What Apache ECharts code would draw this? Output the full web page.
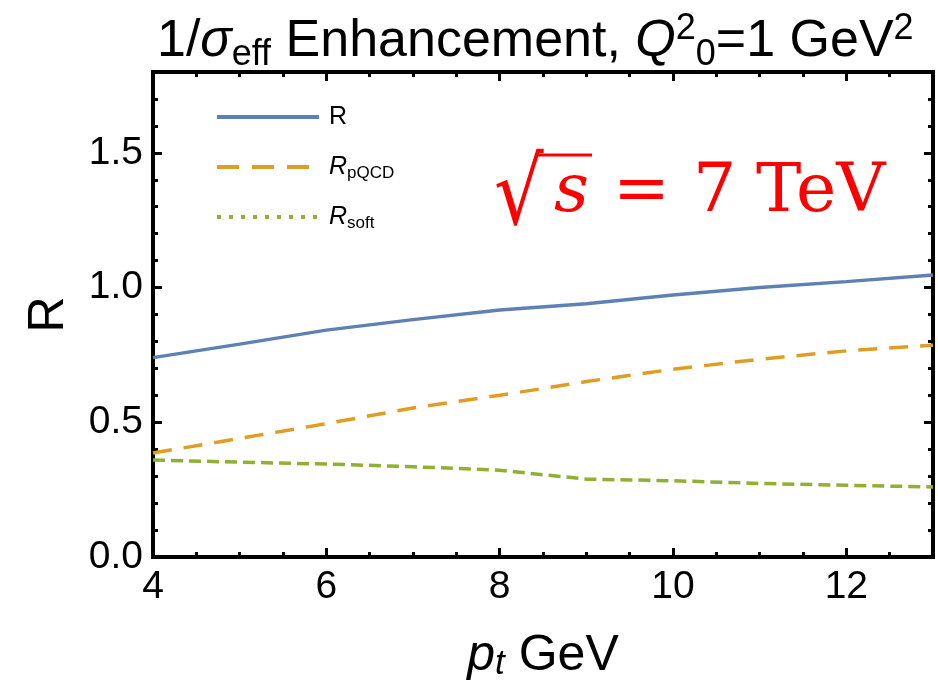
<!DOCTYPE html>
<html><head><meta charset="utf-8">
<script src="https://cdn.jsdelivr.net/npm/echarts@6/dist/echarts.min.js"></script>
<style>html,body{margin:0;padding:0;background:#fff}#c{width:938px;height:691px}</style>
</head><body><div id="c"></div>
<script>
// ---- data ----
const pt    = [4, 5, 6, 7, 8, 9, 10, 11, 12, 13];
const R     = [0.740, 0.790, 0.842, 0.881, 0.917, 0.940, 0.972, 1.000, 1.022, 1.047];
const RpQCD = [0.386, 0.440, 0.495, 0.553, 0.600, 0.651, 0.697, 0.734, 0.765, 0.786];
const Rsoft = [0.360, 0.352, 0.345, 0.335, 0.322, 0.289, 0.283, 0.273, 0.266, 0.260];
const xTickLabels = [4, 6, 8, 10, 12];
const yTickLabels = [0.0, 0.5, 1.0, 1.5];
const seriesNames = ['R', 'R_pQCD', 'R_soft'];

const FF = '"Liberation Sans", Arial, sans-serif';
const SERIF = '"DejaVu Serif", "Liberation Serif", serif';
const BLUE = '#5E81B5', ORANGE = '#E19C24', GREEN = '#8FB032';

const chart = echarts.init(document.getElementById('c'), null, {renderer: 'canvas'});

function near(v, arr, eps) { return arr.some(a => Math.abs(a - v) < eps); }

function xAx(pos, interval, len, main) {
  return {
    type: 'value', position: pos, min: 4, max: 13, interval: interval,
    axisLine: {show: main, onZero: false, lineStyle: {color: '#000', width: 4, cap: 'square'}},
    axisTick: {show: true, inside: true, length: len, lineStyle: {color: '#000', width: 3}},
    axisLabel: (main && pos === 'bottom') ? {
      show: true, fontSize: 39, color: '#000', fontFamily: FF, margin: 11,
      formatter: v => near(v, xTickLabels, 1e-6) ? String(v) : ''
    } : {show: false},
    splitLine: {show: false}
  };
}
function yAx(pos, interval, len, main) {
  return {
    type: 'value', position: pos, min: 0, max: 1.8, interval: interval,
    axisLine: {show: main, onZero: false, lineStyle: {color: '#000', width: 4, cap: 'square'}},
    axisTick: {show: true, inside: true, length: len, lineStyle: {color: '#000', width: 3}},
    axisLabel: (main && pos === 'left') ? {
      show: true, fontSize: 39, color: '#000', fontFamily: FF, margin: 10,
      formatter: v => near(v, yTickLabels, 1e-6) ? v.toFixed(1) : ''
    } : {show: false},
    splitLine: {show: false}
  };
}

const xAxes = [xAx('bottom', 2, 9, true), xAx('bottom', 0.5, 5, false), xAx('top', 2, 9, true), xAx('top', 0.5, 5, false)];
xAxes[0].name = '{i|p}{s|t}{n| GeV}';
xAxes[0].nameLocation = 'middle';
xAxes[0].nameGap = 73;
xAxes[0].nameTextStyle = {
  fontFamily: FF, color: '#000', fontSize: 50, lineHeight: 52,
  rich: {
    i: {fontStyle: 'italic', fontSize: 50, fontFamily: FF, lineHeight: 52},
    s: {fontStyle: 'italic', fontSize: 35, fontFamily: FF, lineHeight: 26, verticalAlign: 'bottom'},
    n: {fontSize: 50, fontFamily: FF, lineHeight: 52}
  }
};
const yAxes = [yAx('left', 0.5, 9, true), yAx('left', 0.1, 5, false), yAx('right', 0.5, 9, true), yAx('right', 0.1, 5, false)];
yAxes[0].name = 'R';
yAxes[0].nameLocation = 'middle';
yAxes[0].nameRotate = 90;
yAxes[0].nameGap = 79;
yAxes[0].nameTextStyle = {fontFamily: FF, color: '#000', fontSize: 50};

const legendText = {
  'R': 'R',
  'R_pQCD': '{it|R}{sb|pQCD}',
  'R_soft': '{it|R}{sb|soft}'
};

const option = {
  backgroundColor: '#fff',
  animation: false,
  title: {
    text: '1/{it|σ}{sb|eff} Enhancement, {it|Q}{sp|2}{sb|0}=1 GeV{sp|2}',
    left: 152, top: 6,
    textStyle: {
      fontSize: 52, fontWeight: 'normal', fontFamily: FF, color: '#000', lineHeight: 62,
      rich: {
        it: {fontStyle: 'italic', fontSize: 52, fontFamily: FF, lineHeight: 62},
        sb: {fontSize: 36, fontFamily: FF, lineHeight: 35, verticalAlign: 'bottom'},
        sp: {fontSize: 36, fontFamily: FF, lineHeight: 31, verticalAlign: 'top'}
      }
    }
  },
  grid: {left: 153, right: 5, top: 72, bottom: 134, containLabel: false},
  xAxis: xAxes,
  yAxis: yAxes,
  legend: {
    orient: 'vertical', left: 210, top: 97,
    itemWidth: 102, itemHeight: 14, itemGap: 20,
    itemStyle: {color: 'rgba(0,0,0,0)', borderWidth: 0},
    data: [
      {name: 'R', lineStyle: {width: 4}},
      {name: 'R_pQCD', lineStyle: {width: 4, type: [22, 13]}},
      {name: 'R_soft', lineStyle: {width: 4, type: [4, 8]}}
    ],
    formatter: n => legendText[n],
    textStyle: {
      fontSize: 25, fontFamily: FF, color: '#000', lineHeight: 30, padding: [0, 0, 0, 5],
      rich: {
        it: {fontStyle: 'italic', fontSize: 25, fontFamily: FF, lineHeight: 30},
        sb: {fontSize: 17, fontFamily: FF, lineHeight: 18, verticalAlign: 'bottom'}
      }
    }
  },
  series: [
    {name: seriesNames[0], type: 'line', symbol: 'none', xAxisIndex: 0, yAxisIndex: 0,
     data: pt.map((x, i) => [x, R[i]]),
     itemStyle: {color: BLUE}, lineStyle: {color: BLUE, width: 3.5, type: 'solid'}},
    {name: seriesNames[1], type: 'line', symbol: 'none', xAxisIndex: 0, yAxisIndex: 0,
     data: pt.map((x, i) => [x, RpQCD[i]]),
     itemStyle: {color: ORANGE}, lineStyle: {color: ORANGE, width: 3.5, type: [19, 12]}},
    {name: seriesNames[2], type: 'line', symbol: 'none', xAxisIndex: 0, yAxisIndex: 0,
     data: pt.map((x, i) => [x, Rsoft[i]]),
     itemStyle: {color: GREEN}, lineStyle: {color: GREEN, width: 3.5, type: [12, 6]}}
  ],
  graphic: [
    {type: 'text', x: 494, y: 192, z: 100, originX: 0, originY: -40, scaleY: 1.19,
     style: {text: '√', font: '78px ' + SERIF, fill: '#ff0000', align: 'left', verticalAlign: 'middle'}},
    {type: 'line', z: 100, shape: {x1: 536, y1: 155, x2: 592, y2: 155},
     style: {stroke: '#ff0000', lineWidth: 3}},
    {type: 'text', x: 554, y: 193, z: 100,
     style: {text: 's', font: 'italic 68px ' + SERIF, fill: '#ff0000', align: 'left', verticalAlign: 'middle'}},
    {type: 'text', x: 613, y: 193, z: 100,
     style: {text: '=', font: '68px ' + SERIF, fill: '#ff0000', align: 'left', verticalAlign: 'middle'}},
    {type: 'text', x: 693, y: 193, z: 100,
     style: {text: '7', font: '68px ' + SERIF, fill: '#ff0000', align: 'left', verticalAlign: 'middle'}},
    {type: 'text', x: 756, y: 193, z: 100,
     style: {text: 'TeV', font: '68px ' + SERIF, fill: '#ff0000', align: 'left', verticalAlign: 'middle'}}
  ]
};
chart.setOption(option);
</script>
</body></html>
